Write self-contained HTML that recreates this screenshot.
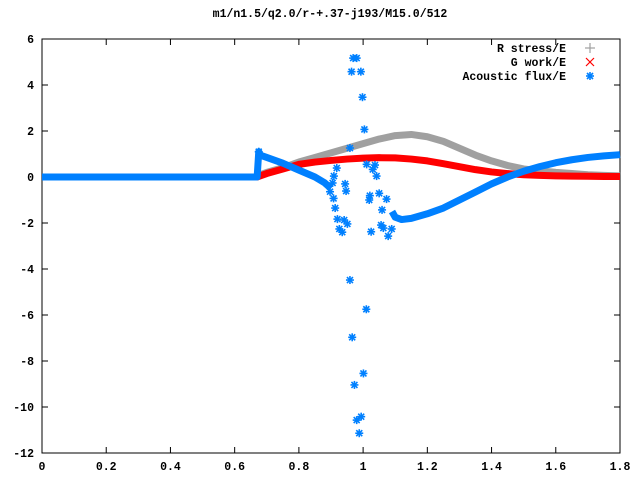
<!DOCTYPE html>
<html><head><meta charset="utf-8"><style>
html,body{margin:0;padding:0;background:#fff}
svg text{font-family:"Liberation Mono",monospace;font-weight:bold;font-size:11.5px;fill:#000}
</style></head><body>
<svg id="c" width="640" height="480" xmlns="http://www.w3.org/2000/svg">
<text x="330" y="17" text-anchor="middle">m1/n1.5/q2.0/r-+.37-j193/M15.0/512</text>
<rect x="42" y="39" width="578" height="414" fill="none" stroke="#000" stroke-width="1"/>
<g id="ticks"></g>
<g id="series"></g>
<g>
<text x="566" y="52" text-anchor="end">R stress/E</text>
<text x="566" y="66" text-anchor="end">G work/E</text>
<text x="566" y="80" text-anchor="end">Acoustic flux/E</text>
</g>
</svg>
<script>
const xTicks=[0,0.2,0.4,0.6,0.8,1,1.2,1.4,1.6,1.8];
const xTickLabels=["0","0.2","0.4","0.6","0.8","1","1.2","1.4","1.6","1.8"];
const yTicks=[-12,-10,-8,-6,-4,-2,0,2,4,6];
const curveX=[0,0.2,0.4,0.6,0.67,0.68,0.7,0.75,0.8,0.85,0.9,0.95,1.0,1.05,1.1,1.15,1.2,1.25,1.3,1.35,1.4,1.45,1.5,1.55,1.6,1.65,1.7,1.75,1.8];
const rStress=[0,0,0,0,0,0.1,0.2,0.4,0.65,0.85,1.05,1.25,1.45,1.65,1.8,1.85,1.75,1.55,1.25,0.95,0.7,0.5,0.35,0.27,0.2,0.15,0.1,0.07,0.05];
const gWork=[0,0,0,0,0,0.05,0.15,0.35,0.55,0.65,0.72,0.78,0.82,0.84,0.83,0.78,0.7,0.58,0.45,0.32,0.22,0.15,0.1,0.07,0.05,0.04,0.03,0.02,0.02];
const fluxCurveX=[0,0.2,0.4,0.6,0.67,0.675,0.68,0.7,0.75,0.8,0.85,0.88,0.9];
const fluxCurve=[0,0,0,0,0,1.1,0.95,0.85,0.6,0.3,0.0,-0.25,-0.5];
const fluxTailX=[1.09,1.1,1.12,1.15,1.2,1.25,1.3,1.35,1.4,1.45,1.5,1.55,1.6,1.65,1.7,1.75,1.8];
const fluxTail=[-1.5,-1.75,-1.85,-1.8,-1.6,-1.35,-1.0,-0.65,-0.3,0.0,0.25,0.45,0.62,0.75,0.85,0.92,0.97];
const scatterX=[0.980,0.969,0.964,0.993,0.998,1.004,0.959,0.918,0.909,0.905,0.897,0.908,0.913,0.920,0.926,0.935,0.941,0.951,0.944,0.947,1.011,1.030,1.037,1.042,1.021,1.019,1.050,1.073,1.059,1.056,1.063,1.078,1.025,1.089,0.959,1.010,0.966,1.001,0.973,0.994,0.980,0.988];
const scatterY=[5.17,5.17,4.58,4.58,3.47,2.07,1.26,0.39,0.04,-0.26,-0.64,-0.93,-1.35,-1.83,-2.26,-2.4,-1.87,-2.04,-0.3,-0.61,0.55,0.33,0.52,0.04,-0.81,-1.0,-0.71,-0.96,-1.43,-2.09,-2.22,-2.57,-2.38,-2.26,-4.48,-5.75,-6.97,-8.54,-9.04,-10.42,-10.57,-11.14];

const NS="http://www.w3.org/2000/svg";
const X0=42,X1=620,Y0=453,Y1=39;
function sx(v){return X0+(v-0)/(1.8-0)*(X1-X0);}
function sy(v){return Y0-(v-(-12))/(6-(-12))*(Y0-Y1);}
function mk(tag,attrs,parent){const e=document.createElementNS(NS,tag);for(const k in attrs)e.setAttribute(k,attrs[k]);parent.appendChild(e);return e;}
const tg=document.getElementById('ticks');
xTicks.forEach((t,i)=>{
  const x=sx(t);
  const a=mk('line',{x1:x,y1:Y0,x2:x,y2:Y0-6,stroke:'#000'},tg);
  
  
  const b=mk('line',{x1:x,y1:Y1,x2:x,y2:Y1+6,stroke:'#000'},tg);
  
  
  const l=mk('text',{x:x,y:470,'text-anchor':'middle'},tg);l.textContent=xTickLabels[i];
  
  
});
yTicks.forEach(t=>{
  const y=sy(t);
  const a=mk('line',{x1:X0,y1:y,x2:X0+6,y2:y,stroke:'#000'},tg);
  
  
  const b=mk('line',{x1:X1,y1:y,x2:X1-6,y2:y,stroke:'#000'},tg);
  
  
  const l=mk('text',{x:34,y:y+4,'text-anchor':'end'},tg);l.textContent=String(t);
  
  
});
const sg=document.getElementById('series');
function band(xs,ys,color,w,name){
  const p=mk('polyline',{points:xs.map((x,i)=>sx(x)+','+sy(ys[i])).join(' '),fill:'none',stroke:color,'stroke-width':w,'stroke-linejoin':'round'},sg);
  
  
}
function star(x,y,color,name){
  const g=mk('g',{stroke:color,'stroke-width':1.6},sg);
  
  
  mk('line',{x1:x-4,y1:y,x2:x+4,y2:y},g);mk('line',{x1:x,y1:y-4,x2:x,y2:y+4},g);
  mk('line',{x1:x-3,y1:y-3,x2:x+3,y2:y+3},g);mk('line',{x1:x-3,y1:y+3,x2:x+3,y2:y-3},g);
}
band(curveX,rStress,'#a0a0a0',7,'r-stress-series');
band(curveX,gWork,'#ff0000',7,'g-work-series');
band(fluxCurveX,fluxCurve,'#0080ff',7,'acoustic-flux-series');
band(fluxTailX,fluxTail,'#0080ff',7,'acoustic-flux-tail');
star(sx(fluxCurveX[5]),sy(fluxCurve[5]),'#0080ff','acoustic-flux-point');
scatterX.forEach((x,i)=>star(sx(x),sy(scatterY[i]),'#0080ff','acoustic-flux-point'));
// legend markers
const lg=mk('g',{},sg);


mk('line',{x1:585,y1:48,x2:595,y2:48,stroke:'#a0a0a0','stroke-width':1.2},lg);
mk('line',{x1:590,y1:43,x2:590,y2:53,stroke:'#a0a0a0','stroke-width':1.2},lg);
mk('line',{x1:586,y1:58,x2:594,y2:66,stroke:'#ff0000','stroke-width':1.2},lg);
mk('line',{x1:586,y1:66,x2:594,y2:58,stroke:'#ff0000','stroke-width':1.2},lg);
star(590,76,'#0080ff','legend-marker-acoustic-flux');
</script>
</body></html>
